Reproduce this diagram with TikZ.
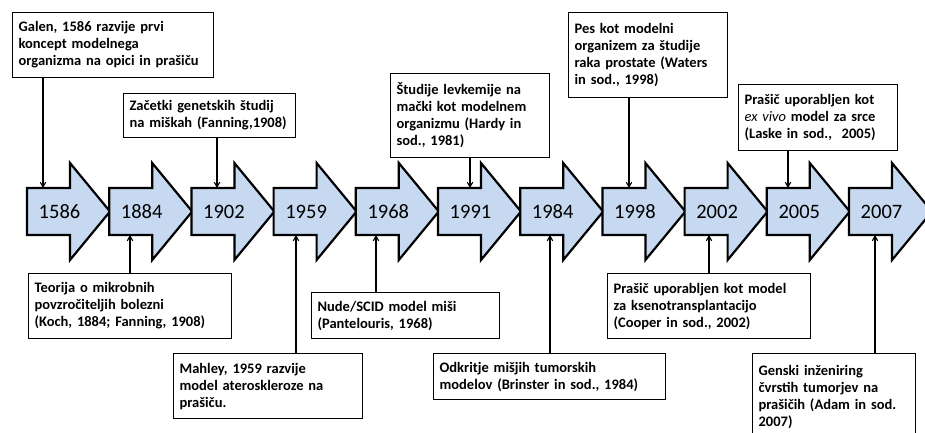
\documentclass[tikz,border=0pt]{standalone}
\usepackage{fontspec}
\setmainfont{Carlito}
\usetikzlibrary{arrows}

\definecolor{arrowblue}{RGB}{198,217,241}
\tikzset{
  box/.style={draw, line width=1.2pt, fill=white, align=left, anchor=north west,
    inner xsep=6pt, inner ysep=0pt, font=\bfseries\fontsize{14.5}{17}\selectfont},
  yeararrow/.style={draw, line width=2.2pt, fill=arrowblue, line join=miter},
  yearlabel/.style={font=\fontsize{20.5}{24}\selectfont},
  link/.style={->, >=angle 60, line width=1.1pt},
}

\begin{document}
\begin{tikzpicture}[x=1pt, y=-1pt]
\useasboundingbox (0,0) rectangle (925,432);
\clip (0,0) rectangle (925,432);

% time line
\foreach \yr [count=\i from 0] in {1586,1884,1902,1959,1968,1991,1984,1998,2002,2005,2007} {
  \pgfmathsetmacro{\xa}{27+82.2*\i}
  \draw [yeararrow] (\xa,188) -- ++(43,0) -- ++(0,-25) -- ++(40,48.5) -- ++(-40,48.5) -- ++(0,-25) -- ++(-43,0) -- cycle;
  \node (y\yr) at (\xa+32.5,212) [yearlabel] {\yr};
}

% ends of the links on the arrows
\coordinate (c1586) at (43,188);
\coordinate (c1902) at (217,188);
\coordinate (c1991) at (470,188);
\coordinate (c1998) at (629,188);
\coordinate (c2005) at (788,188);
\coordinate (c1884) at (130,235);
\coordinate (c1959) at (296,235);
\coordinate (c1968) at (376,235);
\coordinate (c1984) at (550,235);
\coordinate (c2002) at (709,235);
\coordinate (c2007) at (875,235);

% above
\node (galen) at (12,12) [box, text width=189, minimum height=65] {Galen, 1586 razvije prvi\\ koncept modelnega\\ organizma na opici in prašiču};
\node (zacetki) at (123,93) [box, text width=160, minimum height=44] {Začetki genetskih študij\\ na miškah (Fanning,1908)};
\node (studije) at (390,73) [box, text width=147, minimum height=84] {Študije levkemije na\\ mački kot modelnem\\ organizmu (Hardy in\\ sod., 1981)};
\node (pes) at (568,12) [box, text width=147, minimum height=85] {Pes kot modelni\\ organizem za študije\\ raka prostate (Waters\\ in sod., 1998)};
\node (exvivo) at (738,84) [box, text width=147, minimum height=66] {Prašič uporabljen kot\\ {\mdseries\itshape ex vivo} model za srce\\ (Laske in sod.,~ 2005)};

% below
\node (teorija) at (28,273) [box, text width=191, minimum height=65] {Teorija o mikrobnih\\ povzročiteljih bolezni\\ (Koch, 1884; Fanning, 1908)};
\node (mahley) at (173,353) [box, text width=177, minimum height=65] {Mahley, 1959 razvije\\ model ateroskleroze na\\ prašiču.};
\node (nude) at (311,292) [box, text width=176, minimum height=46] {Nude/SCID model miši\\ (Pantelouris, 1968)};
\node (odkritje) at (433,353) [box, text width=220, minimum height=46] {Odkritje mišjih tumorskih\\ modelov (Brinster in sod., 1984)};
\node (xeno) at (607,273) [box, text width=191, minimum height=65] {Prašič uporabljen kot model\\ za ksenotransplantacijo\\ (Cooper in sod., 2002)};
\node (genski) at (752,353) [box, text width=151, minimum height=86] {Genski inženiring\\ čvrstih tumorjev na\\ prašičih (Adam in sod.\\ 2007)};

\draw [link] (galen.south -| c1586) -- (c1586);
\draw [link] (zacetki.south -| c1902) -- (c1902);
\draw [link] (studije.south -| c1991) -- (c1991);
\draw [link] (pes.south -| c1998) -- (c1998);
\draw [link] (exvivo.south -| c2005) -- (c2005);
\draw [link] (teorija.north -| c1884) -- (c1884);
\draw [link] (mahley.north -| c1959) -- (c1959);
\draw [link] (nude.north -| c1968) -- (c1968);
\draw [link] (odkritje.north -| c1984) -- (c1984);
\draw [link] (xeno.north -| c2002) -- (c2002);
\draw [link] (genski.north -| c2007) -- (c2007);
\end{tikzpicture}
\end{document}
